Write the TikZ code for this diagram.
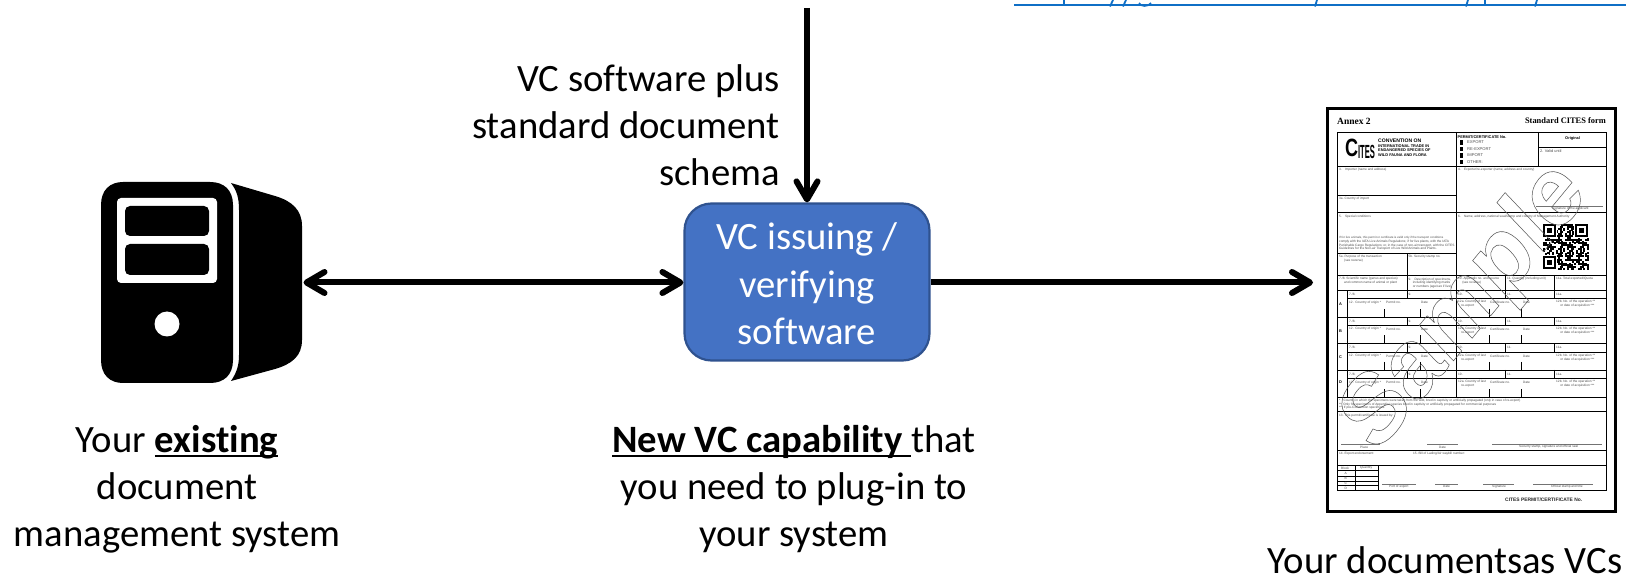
\documentclass[tikz,border=0pt]{standalone}
\usepackage{fontspec}
\setmainfont{Carlito}[Ligatures=NoCommon]
\newfontfamily\arialf{Liberation Sans}
\newfontfamily\timesf{Liberation Serif}
\usetikzlibrary{arrows.meta}
\definecolor{boxblue}{HTML}{4472C4}
\definecolor{boxedge}{HTML}{2F528F}
\definecolor{linkblue}{HTML}{0F6FC6}
\definecolor{formgrey}{gray}{0.30}
\newcounter{ftc}
\newlength\ulw
\newcommand\ulbar[1]{\settowidth\ulw{#1}\leavevmode\rlap{\rule[-5pt]{\ulw}{2.6pt}}#1}
\newcommand\ft[3]{\stepcounter{ftc}\node[ftxt] (f\theftc) at (#1,#2) {#3};}
\newcommand\fb[3]{\stepcounter{ftc}\node[ftxt,text=black,font=\arialf\bfseries\fontsize{3.9}{4.5}\selectfont] (f\theftc) at (#1,#2) {#3};}
\tikzset{
  lbl/.style={inner sep=0pt,align=center,font=\fontsize{38.7}{47}\selectfont,text=black},
  flow/.style={line width=6pt,draw=black,>={Straight Barb[length=18pt,width=21pt,round]}},
  ftxt/.style={anchor=west,inner sep=0pt,align=left,text=formgrey,font=\arialf\fontsize{3.2}{3.7}\selectfont},
  fl/.style={draw=black,line width=0.9pt},
  fg/.style={draw=black!55,line width=0.5pt},
}
\begin{document}
\begin{tikzpicture}[x=1pt,y=-1pt]
\useasboundingbox (0,0) rectangle (1626,577);
% link remnant
\draw[linkblue,line width=2pt] (1014,4.6) -- (1626,4.6);
\foreach \a/\b in {1064/1064,1113/1110,1126/1123,1317/1315,1468/1466,1485/1485,1537/1535}
  \draw[linkblue,line width=1.8pt] (\a,0) -- (\b,6.5);
\draw[linkblue,line width=1.6pt] (1139,3) .. controls (1141,7) and (1148,7) .. (1151,3);
% server
\fill[black] (123,182) -- (210,182) .. controls (224,182) and (233,190) .. (233,205)
  -- (233,360) .. controls (233,375) and (224,383) .. (210,383) -- (123,383)
  .. controls (110,383) and (101,375) .. (101,360) -- (101,205)
  .. controls (101,190) and (110,182) .. (123,182) -- cycle;
\fill[black] (231,183) -- (275,196) .. controls (292,201) and (302,210) .. (302,226)
  -- (302,340) .. controls (302,356) and (292,364) .. (275,369) -- (231,381)
  .. controls (237,372) and (239,365) .. (239,355) -- (239,210)
  .. controls (239,198) and (237,191) .. (231,183) -- cycle;
\fill[white,rounded corners=4pt] (117,198) rectangle (217,283);
\fill[black,rounded corners=5pt] (125,206) rectangle (209,236);
\fill[black,rounded corners=5pt] (125,244) rectangle (209,275);
\fill[white] (167,324) circle (12.5);
% nodes
\node[draw=boxedge,line width=2.2pt,fill=boxblue,rounded corners=27pt,minimum width=245pt,minimum height=157pt,inner sep=0pt,
  align=center,text=white,font=\fontsize{38.7}{47.5}\selectfont] (vc) at (807,282) {\rule{0pt}{31pt}VC issuing /\\verifying\\software};
\coordinate (srv) at (303.5,282.5);
\coordinate (doc) at (1313,282.5);
\coordinate (top) at (807,8);
\draw[flow,<->] (srv) -- (vc.west |- srv);
\draw[flow,->] (vc.east |- srv) -- (doc);
\draw[flow,->] (top) -- (vc.north);
\node[lbl,align=right,anchor=east] (schema) at (780,125) {VC software plus\\standard document\\schema};
\node[lbl] (lexist) at (177,489) {Your \ulbar{\textbf{existing}}\\document\\management system};
\node[lbl] (lnew) at (794,489) {\ulbar{\textbf{New VC capability }}that\\you need to plug-in to\\your system};
\node[lbl,anchor=base] (ldoc) at (1445,573.5) {Your documentsas VCs};
% form frame
\draw[black,line width=2.8pt,fill=white] (1327.5,108.5) rectangle (1615.5,511.5);
\node[inner sep=0pt,anchor=west,font=\timesf\bfseries\fontsize{9.5}{10}\selectfont] (annex) at (1337,121) {Annex 2};
\node[inner sep=0pt,anchor=east,font=\timesf\bfseries\fontsize{8.4}{10}\selectfont] (std) at (1606,121) {Standard CITES form};
% table rules
\draw[fl] (1337,132) rectangle (1606,490);
\foreach \y in {166,212.3,275,290.7,317.3,343.3,370,397.3,411.7,450,465.7} \draw[fl] (1337,\y) -- (1606,\y);
\foreach \y in {298.3,325,352.3,378.3} \draw[fl] (1347,\y) -- (1606,\y);
\draw[fl] (1337,195.7) -- (1456.7,195.7);
\draw[fl] (1337,253.3) -- (1456.7,253.3);
\draw[fl] (1538,147) -- (1606,147);
\draw[fl] (1538,132) -- (1538,166);
\draw[fl] (1456.7,132) -- (1456.7,397.3);
\draw[fl] (1407,253.3) -- (1407,298.3);
\draw[fl] (1347,290.7) -- (1347,397.3);
\foreach \a/\b in {290.7/298.3,317.3/325,343.3/352.3,370/378.3} {
  \draw[fl] (1407,\a) -- (1407,\b);
  \draw[fl] (1505.7,\a) -- (1505.7,\b);
  \draw[fl] (1554,\a) -- (1554,\b);
}
\draw[fl] (1505.7,275) -- (1505.7,290.7);
\draw[fl] (1554,275) -- (1554,290.7);
\foreach \y in {317.3,343.3,370,397.3} \foreach \x in {1384,1420,1489,1521}
  \draw[fl] (\x,\y-8) -- (\x,\y);
% mini table
\draw[fl] (1355.7,465.7) -- (1355.7,490);
\draw[fl] (1378,465.7) -- (1378,490);
\foreach \y in {470.7,476,481,485.7} \draw[fl] (1337,\y) -- (1378,\y);
% signature rules
\foreach \a/\b/\y in {1341/1380/444,1427/1458/444,1492/1602/444,1382/1416/484.3,1435/1458/484.3,1483/1514/484.3,1533/1593/484.3,1536/1603/206.7}
  \draw[fg] (\a,\y) -- (\b,\y);
% form texts
\begin{scope}[shift={(1345,148)},xscale=0.72]
\node[transform shape,inner sep=0pt,anchor=west,font=\arialf\bfseries\fontsize{25}{25}\selectfont] (cc) at (0,0) {C};
\end{scope}
\begin{scope}[shift={(1358,151.5)},xscale=0.4]
\node[transform shape,inner sep=0pt,anchor=west,font=\arialf\bfseries\fontsize{19}{19}\selectfont] (cites) at (0,0) {ITES};
\end{scope}
\fb{1378}{147.5}{\fontsize{5.1}{6.3}\selectfont CONVENTION ON\\INTERNATIONAL TRADE IN\\ENDANGERED SPECIES OF\\WILD FAUNA AND FLORA}
\fb{1457.5}{137}{PERMIT/CERTIFICATE No.}
\foreach \y in {142.3,149,155.3,162} \fill[black] (1460.2,\y-2) rectangle (1463.2,\y+2.4);
\ft{1467}{142.3}{\fontsize{4.1}{5}\selectfont EXPORT}
\ft{1467}{149}{\fontsize{4.1}{5}\selectfont RE-EXPORT}
\ft{1467}{155.3}{\fontsize{4.1}{5}\selectfont IMPORT}
\ft{1467}{162}{\fontsize{4.1}{5}\selectfont OTHER:}
\fb{1565}{138.5}{Original}
\ft{1540}{151}{\fontsize{3.9}{5}\selectfont 2. Valid until}
\ft{1339}{170}{3.\quad Importer (name and address)}
\ft{1458}{170}{4.\quad Exporter/re-exporter (name, address and country)}
\ft{1339}{199}{3a.\ Country of import}
\ft{1552}{208.5}{Signature of the applicant}
\ft{1339}{216.7}{5.\quad Special conditions}
\ft{1458}{216.7}{6.\quad Name, address, national seal/stamp and country of Management Authority}
\ft{1339}{243.5}{\fontsize{2.95}{3.8}\selectfont If for live animals, this permit or certificate is valid only if the transport conditions\\comply with the IATA Live Animals Regulations; if for live plants, with the IATA\\Perishable Cargo Regulations; or, in the case of non-air transport, with the CITES\\Guidelines for the Non-air Transport of Live Wild Animals and Plants.}
\ft{1339}{259}{5a.\ Purpose of the transaction\\\quad\ \ (see reverse)}
\ft{1408.5}{257}{5b.\ Security stamp no.}
\ft{1339}{281}{7./8.\ Scientific name (genus and species)\\\quad\ \ and common name of animal or plant}
\ft{1408.5}{283}{9.\quad Description of specimens,\\\quad\ including identifying marks\\\quad\ or numbers (age/sex if live)}
\ft{1458}{281}{10.\ Appendix no. and source\\\quad\ (see reverse)}
\ft{1507}{279}{11.\ Quantity (including unit)}
\ft{1556}{279}{11a.\ Total exported/Quota}
\foreach \y in {294.5,321,347.8,374.2} {
  \ft{1349}{\y}{7./8.}
  \ft{1408.5}{\y}{9.}
  \ft{1458}{\y}{10.}
  \ft{1507}{\y}{11.}
  \ft{1556}{\y}{11a.}
}
\foreach \y in {302.5,329,356,382.5} {
  \ft{1349}{\y}{12.\ \ Country of origin *}
  \ft{1386}{\y}{Permit no.}
  \ft{1421}{\y}{Date}
  \ft{1458}{\y+1.5}{12a.\ Country of last\\\quad re-export}
  \ft{1490}{\y}{Certificate no.}
  \ft{1523}{\y}{Date}
  \ft{1556}{\y+1.5}{12b.\ No. of the operation **\\\quad\ or date of acquisition ***}
}
\fb{1339}{304}{A}
\fb{1339}{330.7}{B}
\fb{1339}{356.7}{C}
\fb{1339}{382.5}{D}
\ft{1339}{400.7}{*\quad Country in which the specimens were taken from the wild, bred in captivity or artificially propagated (only in case of re-export)}
\ft{1339}{404.6}{**\ \ Only for specimens of Appendix-I species bred in captivity or artificially propagated for commercial purposes}
\ft{1339}{408}{***\ If pre-Convention specimens}
\ft{1339}{415.7}{13.\ This permit/certificate is issued by:}
\ft{1360}{447}{Place}
\ft{1439}{447}{Date}
\ft{1519}{447}{Security stamp, signature and official seal}
\ft{1339}{453.3}{14.\ Export endorsement:}
\ft{1413}{453.3}{15.\ Bill of Lading/Air waybill number:}
\ft{1341}{468}{Block}
\ft{1360}{468}{Quantity}
\ft{1344.5}{473.3}{A}
\ft{1344.5}{478.5}{B}
\ft{1344.5}{483.3}{C}
\ft{1344.5}{487.9}{D}
\ft{1389}{486.7}{Port of export}
\ft{1443}{486.7}{Date}
\ft{1492}{486.7}{Signature}
\ft{1551}{486.7}{Official stamp and title}
\node[inner sep=0pt,anchor=west,text=black!85,font=\arialf\bfseries\fontsize{4.9}{5.5}\selectfont] (certno) at (1505,500) {CITES PERMIT/CERTIFICATE No.};
% QR code
\begin{scope}[shift={(1543,224)}]
\foreach \i in {0,...,24} \foreach \j in {0,...,24} {
  \pgfmathtruncatemacro\v{mod(\i*\i*3+\j*\j*5+\i*\j*7+\i*2+\j,11)}
  \ifnum\v<6 \fill[black] (\i*1.84,\j*1.84) rectangle ++(1.95,1.95); \fi
}
\foreach \px/\py in {0/0,32.2/0,0/32.2} {
  \fill[white] (\px-0.9,\py-0.9) rectangle ++(14.7,14.7);
  \fill[black] (\px,\py) rectangle ++(12.9,12.9);
  \fill[white] (\px+1.84,\py+1.84) rectangle ++(9.2,9.2);
  \fill[black] (\px+3.68,\py+3.68) rectangle ++(5.5,5.5);
}
\end{scope}
% watermark
\begin{scope}[shift={(1466,308)},yscale=1.13]
\node[transform shape,rotate=47,inner sep=0pt,font=\arialf\bfseries\fontsize{88}{88}\selectfont] (sample) at (0,0)
  {\special{pdf:code 1 Tr 0.5 w 0.35 0.35 0.35 RG}Sample\special{pdf:code 0 Tr 0 G}};
\end{scope}
\end{tikzpicture}
\end{document}
